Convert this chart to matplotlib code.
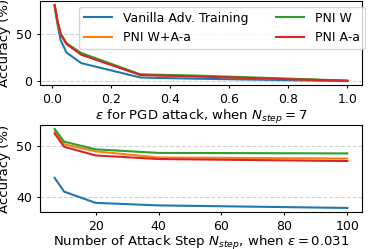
import numpy as np
import matplotlib.pyplot as plt

# top panel: accuracy vs epsilon (N_step = 7)
eps = [0.01, 0.02, 0.03, 0.05, 0.1, 0.3, 0.5, 1.0]
eps_vanilla = [79, 60, 44, 30.5, 19.2, 3.8, 2.5, 0.0]
eps_pni_wa = [80.5, 63, 50, 39.5, 28.5, 6.8, 5.0, 0.3]
eps_pni_w = [81, 64, 51, 40.5, 30, 7.2, 5.8, 0.5]
eps_pni_a = [81.5, 63.5, 50.5, 39.8, 28.2, 6.5, 4.8, 0.3]

# bottom panel: accuracy vs attack steps (eps = 0.031)
steps = [7, 10, 20, 40, 100]
st_vanilla = [43.7, 41.0, 38.8, 38.3, 37.8]
st_pni_wa = [52.8, 50.3, 48.9, 47.7, 47.5]
st_pni_w = [53.3, 50.8, 49.3, 48.6, 48.5]
st_pni_a = [52.4, 49.8, 48.1, 47.4, 47.0]

labels = ["Vanilla Adv. Training", "PNI W+A-a", "PNI W", "PNI A-a"]

plt.rcParams["font.size"] = 9.5
plt.rcParams["xtick.labelsize"] = 9
plt.rcParams["ytick.labelsize"] = 9
plt.rcParams["xtick.major.size"] = 2.5
plt.rcParams["ytick.major.size"] = 2.5
plt.rcParams["xtick.major.pad"] = 3
plt.rcParams["ytick.major.pad"] = 3

fig = plt.figure(figsize=(3.74, 2.49), dpi=100)
ax1 = fig.add_axes([0.107, 0.659, 0.861, 0.337])
ax2 = fig.add_axes([0.107, 0.149, 0.861, 0.349])

for ys, lab in zip([eps_vanilla, eps_pni_wa, eps_pni_w, eps_pni_a], labels):
    ax1.plot(eps, ys, label=lab, lw=1.5)
ax1.set_yticks([0, 50])
ax1.set_xticks(np.linspace(0, 1, 6))
ax1.set_ylabel("Accuracy (%)")
ax1.set_xlabel(r"$\varepsilon$ for PGD attack, when $N_{step}=7$", labelpad=2)
ax1.yaxis.grid(True, ls="--", color="lightgray")
ax1.legend(ncol=2, loc="upper right", bbox_to_anchor=(1.009, 0.93),
           fontsize=9, handlelength=2.2, columnspacing=2.2,
           handletextpad=0.9, borderaxespad=0)

for ys, lab in zip([st_vanilla, st_pni_wa, st_pni_w, st_pni_a], labels):
    ax2.plot(steps, ys, label=lab, lw=1.5)
ax2.set_yticks([40, 50])
ax2.set_xticks([20, 40, 60, 80, 100])
ax2.set_ylabel("Accuracy (%)")
ax2.set_xlabel(r"Number of Attack Step $N_{step}$, when $\varepsilon=0.031$", labelpad=1)
ax2.yaxis.grid(True, ls="--", color="lightgray")

fig.savefig("out.png")
